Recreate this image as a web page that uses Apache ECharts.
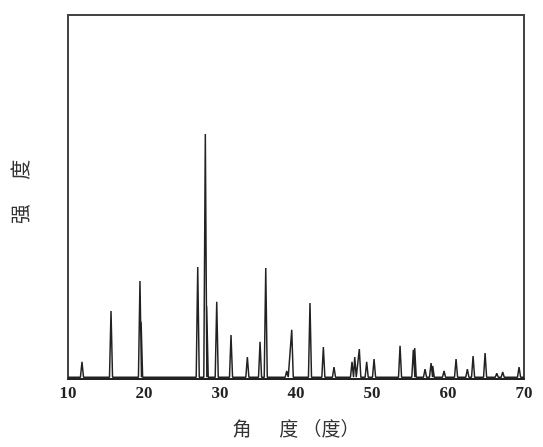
<!DOCTYPE html>
<html>
<head>
<meta charset="utf-8">
<script src="https://cdn.jsdelivr.net/npm/echarts@6/dist/echarts.min.js"></script>
<style>
  html, body { margin: 0; padding: 0; background: #fff; }
  #chart { width: 543px; height: 447px; }
</style>
</head>
<body>
<div id="chart"></div>
<script>
// Peak positions (2θ, degrees) and heights
const peakAngles = [11.84, 15.66, 19.47, 19.62, 23.4, 27.07, 28.07, 28.25, 29.57, 31.45, 33.6, 35.27, 36.02,
  38.78, 39.44, 41.84, 43.6, 45.0, 47.37, 47.73, 48.33, 49.3, 50.27, 53.69, 55.44, 55.62,
  56.98, 57.77, 57.99, 59.48, 61.06, 62.55, 63.3, 64.88, 66.42, 67.2, 69.35]
const peakHeights = [47, 187, 269, 157, 8, 308, 673, 200, 212, 121, 60, 102, 305,
  22, 135, 209, 88, 33, 47, 60, 82, 47, 55, 91, 80, 85,
  27, 44, 36, 22, 55, 27, 63, 71, 16, 19, 33]
const baseLevel = 5
const xTicks = [10, 20, 30, 40, 50, 60, 70]

// half width of each peak foot, in degrees (shape only)
const halfWidth = 0.2

const lineData = [[xTicks[0], baseLevel]]
peakAngles.forEach((a, i) => {
  lineData.push([a - halfWidth, baseLevel])
  lineData.push([a, peakHeights[i]])
  lineData.push([a + halfWidth, baseLevel])
})
lineData.push([xTicks[xTicks.length - 1], baseLevel])

const chart = echarts.init(document.getElementById('chart'))
chart.setOption({
  animation: false,
  grid: {
    left: 68,
    right: 19,
    top: 15,
    bottom: 68,
    show: true,
    borderColor: '#444',
    borderWidth: 2
  },
  xAxis: {
    type: 'value',
    min: 10,
    max: 70,
    interval: 10,
    name: '角  　度 （度）',
    nameLocation: 'middle',
    nameGap: 40,
    nameTextStyle: {
      fontFamily: 'Noto Sans CJK SC',
      fontSize: 19,
      color: '#333'
    },
    axisLine: { lineStyle: { color: '#222', width: 2 } },
    axisTick: { show: false },
    splitLine: { show: false },
    axisLabel: {
      fontFamily: 'Liberation Serif',
      fontWeight: 'bold',
      fontSize: 17,
      color: '#222',
      margin: 6
    }
  },
  yAxis: {
    type: 'value',
    min: 0,
    max: 1000,
    name: '强　 度',
    nameLocation: 'middle',
    nameRotate: 90,
    nameGap: 38,
    nameTextStyle: {
      fontFamily: 'Noto Sans CJK SC',
      fontSize: 20,
      color: '#333',
      padding: [0, 0, 0, 10]
    },
    axisLine: { show: true, lineStyle: { color: '#444', width: 2 } },
    axisTick: { show: false },
    axisLabel: { show: false },
    splitLine: { show: false }
  },
  series: [
    {
      type: 'line',
      data: lineData,
      symbol: 'none',
      lineStyle: { color: '#222', width: 1.5 }
    }
  ]
})
</script>
</body>
</html>
